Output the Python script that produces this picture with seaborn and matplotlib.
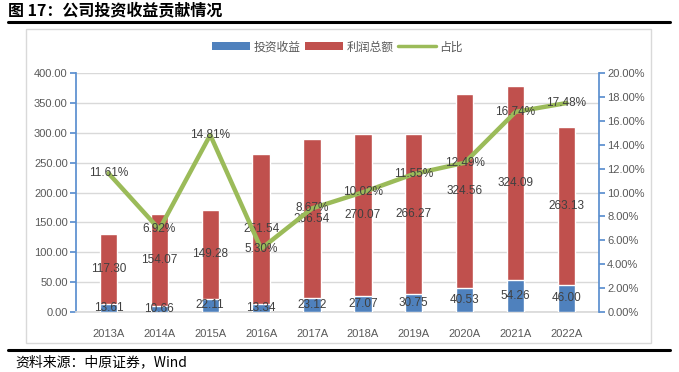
import matplotlib
matplotlib.use("Agg")
import matplotlib.pyplot as plt
import seaborn as sns
import pandas as pd
from matplotlib.patches import Patch, Rectangle
from matplotlib.lines import Line2D
from matplotlib.ticker import FuncFormatter

# Data
years = ["2013A", "2014A", "2015A", "2016A", "2017A", "2018A", "2019A", "2020A", "2021A", "2022A"]
invest_income = [13.61, 10.66, 22.11, 13.34, 23.12, 27.07, 30.75, 40.53, 54.26, 46.00]
total_profit = [117.30, 154.07, 149.28, 251.54, 266.54, 270.07, 266.27, 324.56, 324.09, 263.13]
ratio = [11.61, 6.92, 14.81, 5.30, 8.67, 10.02, 11.55, 12.49, 16.74, 17.48]

df = pd.DataFrame({
    "year": years,
    "invest": invest_income,
    "profit": total_profit,
    "ratio": ratio,
})
df["stack_top"] = df["invest"] + df["profit"]

blue = "#4F81BD"
red = "#C0504D"
green = "#9BBB59"
axis_blue = "#5B8FCF"
tick_grey = "#595959"
label_grey = "#404040"

sns.set_theme(style="white")
plt.rcParams["font.family"] = ["Liberation Sans", "Noto Sans CJK SC", "DejaVu Sans"]

fig = plt.figure(figsize=(6.79, 3.72), dpi=100)
ax = fig.add_axes([0.112, 0.161, 0.770, 0.643])

# Stacked bars: draw the full stack in red, then the investment part in blue
sns.barplot(data=df, x="year", y="stack_top", color=red, width=0.34, saturation=1, ax=ax, zorder=2)
sns.barplot(data=df, x="year", y="invest", color=blue, width=0.34, saturation=1, ax=ax, zorder=3)

ax.set_ylim(0, 400)
ax.set_yticks(range(0, 401, 50))
ax.yaxis.set_major_formatter(FuncFormatter(lambda v, p: f"{v:.2f}"))
ax.set_xlabel("")
ax.set_ylabel("")
ax.grid(axis="y", color="#D9D9D9", linewidth=1, zorder=0)
ax.set_axisbelow(True)
for s in ["top", "right"]:
    ax.spines[s].set_visible(False)
ax.spines["left"].set_color(axis_blue)
ax.spines["bottom"].set_color("#D9D9D9")
ax.tick_params(axis="y", left=True, length=4, color=axis_blue, labelsize=8, labelcolor=tick_grey, pad=2)
ax.tick_params(axis="x", bottom=False, labelsize=8, labelcolor=tick_grey, pad=6)

# Data labels on bars
for i, row in df.iterrows():
    ax.text(i, row["invest"] / 2, f"{row['invest']:.2f}", ha="center", va="center",
            fontsize=8.5, color=label_grey, zorder=5)
    ax.text(i, row["invest"] + row["profit"] / 2, f"{row['profit']:.2f}", ha="center", va="center",
            fontsize=8.5, color=label_grey, zorder=5)

# Ratio line on secondary axis
ax2 = ax.twinx()
sns.lineplot(data=df, x="year", y="ratio", color=green, linewidth=3.2, ax=ax2, zorder=4)
ax2.set_ylim(0, 20)
ax2.set_yticks(range(0, 21, 2))
ax2.yaxis.set_major_formatter(FuncFormatter(lambda v, p: f"{v:.2f}%"))
ax2.set_ylabel("")
for s in ["top", "left", "bottom"]:
    ax2.spines[s].set_visible(False)
ax2.spines["right"].set_color(axis_blue)
ax2.tick_params(axis="y", right=True, length=4, color=axis_blue, labelsize=8, labelcolor=tick_grey, pad=2)
ax2.grid(False)

for i, v in enumerate(ratio):
    ax2.text(i, v, f"{v:.2f}%", ha="center", va="center", fontsize=8.5, color=label_grey, zorder=6)

# Legend
handles = [
    Patch(facecolor=blue, edgecolor="none"),
    Patch(facecolor=red, edgecolor="none"),
    Line2D([0], [0], color=green, linewidth=2.5),
]
fig.legend(handles, ["投资收益", "利润总额", "占比"], loc="center", bbox_to_anchor=(0.497, 0.874),
           ncol=3, frameon=False, handlelength=3.2, handleheight=0.6,
           columnspacing=0.4, handletextpad=0.3, labelcolor=tick_grey,
           prop={"family": ["Noto Sans CJK SC"], "size": 8.5})

# Frame, title and source
fig.patches.append(Rectangle((26 / 679, 1 - 343 / 372), 625 / 679, 314 / 372, transform=fig.transFigure,
                             fill=False, edgecolor="#D9D9D9", linewidth=1))
fig.lines.append(Line2D([8 / 679, 670 / 679], [1 - 22 / 372, 1 - 22 / 372], transform=fig.transFigure,
                        color="black", linewidth=2.2))
fig.lines.append(Line2D([8 / 679, 670 / 679], [1 - 350 / 372, 1 - 350 / 372], transform=fig.transFigure,
                        color="black", linewidth=2.2))
fig.text(8 / 679, 1 - 10 / 372, "图 17：公司投资收益贡献情况", ha="left", va="center",
         fontsize=11.5, fontweight="bold", family=["Noto Sans CJK SC"], color="black")
fig.text(15 / 679, 1 - 362 / 372, "资料来源：中原证券，Wind", ha="left", va="center",
         fontsize=10, family=["Noto Sans CJK SC"], color="black")

fig.savefig("out.png", dpi=100)
